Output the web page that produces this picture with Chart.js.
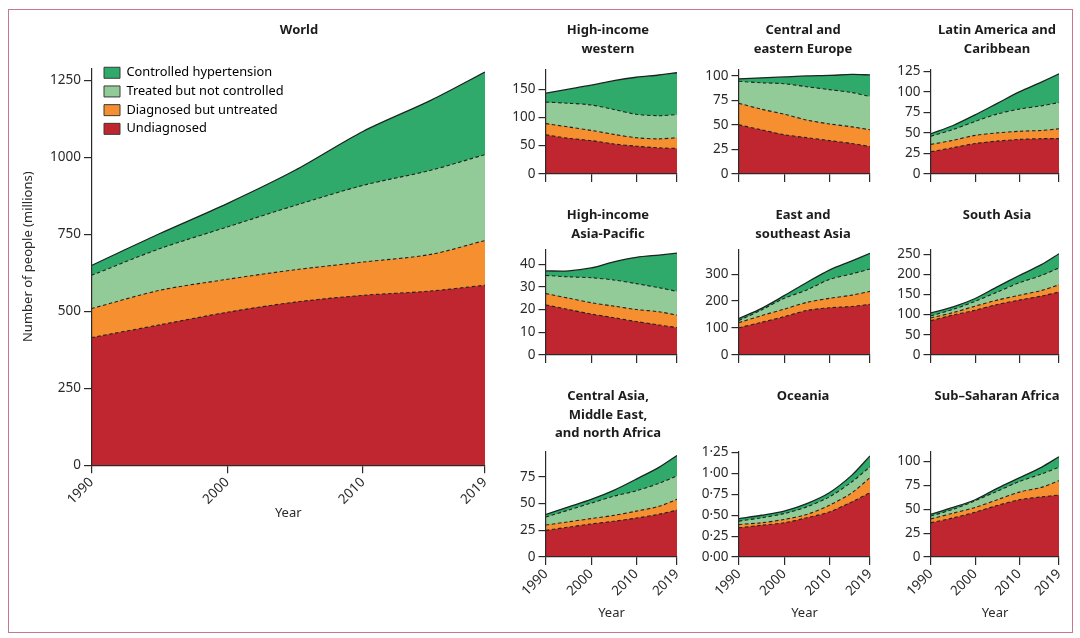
<!DOCTYPE html>
<html>
<head>
<meta charset="utf-8">
<title>Hypertension care cascade</title>
<script src="https://cdn.jsdelivr.net/npm/chart.js@4/dist/chart.umd.min.js"></script>
<style>
  html, body { margin: 0; padding: 0; background: #fff; overflow: hidden; }
  #page { position: relative; width: 1080px; height: 638px; overflow: hidden; }
  #frame { position: absolute; left: 8px; top: 9px; width: 1063px; height: 622px; border: 1px solid #c9788c; }
  canvas { position: absolute; }
</style>
</head>
<body>
<div id="page"><div id="frame"></div></div>
<script>
const years = [1990, 1995, 2000, 2005, 2010, 2015, 2019];
const yearTicks = [1990, 2000, 2010, 2019];
const seriesNames = ['Undiagnosed', 'Diagnosed but untreated', 'Treated but not controlled', 'Controlled hypertension'];

// upper edge of each band, in millions
const worldUndiagnosed = [415, 456, 497, 530, 552, 566, 585];
const worldDiagnosed = [509, 568, 604, 635, 660, 685, 730];
const worldTreated = [617, 703, 774, 844, 909, 958, 1009];
const worldControlled = [649, 752, 850, 958, 1084, 1185, 1277];
const worldTicks = [0, 250, 500, 750, 1000, 1250];

const westernUndiagnosed = [69, 63, 59, 53, 49, 46, 45];
const westernDiagnosed = [89, 83, 77, 70, 64, 62, 64];
const westernTreated = [127, 125, 122, 114, 105.5, 103, 105];
const westernControlled = [143, 150, 157, 165, 171, 175, 179];
const westernTicks = [0, 50, 100, 150];

const europeUndiagnosed = [50, 45, 40, 37, 34, 31, 28];
const europeDiagnosed = [72, 66, 61, 55, 51, 48, 45];
const europeTreated = [94.5, 93, 92, 89, 86, 83, 79];
const europeControlled = [97, 98, 99, 100, 100.5, 101.5, 101];
const europeTicks = [0, 25, 50, 75, 100];

const latinUndiagnosed = [27, 32, 37, 40, 42, 43, 43];
const latinDiagnosed = [36, 41, 47, 50, 52, 53, 55];
const latinTreated = [46, 54, 64, 73, 79, 83, 87];
const latinControlled = [49, 59, 72, 86, 100, 112, 122];
const latinTicks = [0, 25, 50, 75, 100, 125];

const pacificUndiagnosed = [22, 20, 18, 16.4, 14.7, 13.2, 12];
const pacificDiagnosed = [27, 25, 23, 21.5, 20, 19, 17.5];
const pacificTreated = [35, 34.4, 34, 33, 31.4, 29.6, 28];
const pacificControlled = [37, 37, 38.3, 41, 43, 44, 44.8];
const pacificTicks = [0, 10, 20, 30, 40];

const eastUndiagnosed = [101, 121, 142, 165, 175, 180, 188];
const eastDiagnosed = [120, 146, 170, 195, 210, 222, 236];
const eastTreated = [128, 167, 210, 241, 280, 301, 319];
const eastControlled = [135, 173, 220, 269, 315, 349, 377];
const eastTicks = [0, 100, 200, 300];

const southUndiagnosed = [85, 99, 111, 125, 136, 146, 156];
const southDiagnosed = [92, 105, 121, 136, 148, 160, 174];
const southTreated = [97, 113, 133, 156, 179, 197, 216];
const southControlled = [104, 119, 140, 169, 197, 224, 251];
const southTicks = [0, 50, 100, 150, 200, 250];

const menaUndiagnosed = [25, 28, 31, 33.5, 36.5, 40, 44];
const menaDiagnosed = [30, 33, 36, 39, 43, 47.5, 54];
const menaTreated = [37.5, 44, 50.5, 57, 62, 69, 76];
const menaControlled = [40, 47, 54, 62.5, 73, 84, 95];
const menaTicks = [0, 25, 50, 75];

const oceaniaUndiagnosed = [0.35, 0.38, 0.41, 0.47, 0.54, 0.66, 0.77];
const oceaniaDiagnosed = [0.39, 0.41, 0.45, 0.51, 0.62, 0.77, 0.95];
const oceaniaTreated = [0.43, 0.47, 0.52, 0.60, 0.72, 0.90, 1.08];
const oceaniaControlled = [0.46, 0.50, 0.55, 0.64, 0.77, 0.98, 1.21];
const oceaniaTicks = [0, 0.25, 0.5, 0.75, 1, 1.25];

const africaUndiagnosed = [36, 41, 47, 54, 60, 63, 65];
const africaDiagnosed = [40, 46, 52, 60, 68, 73, 80];
const africaTreated = [43, 50, 59, 69, 79, 87, 94];
const africaControlled = [45, 52, 60, 72, 83, 94, 105];
const africaTicks = [0, 25, 50, 75, 100];

const fillColors = ['#bf2630', '#f58f30', '#93cb98', '#2faa6b'];
const ink = '#2a2a2a';
const FONT = '"Noto Sans", sans-serif';

// the title centres on the plot box by default and the legend has no free
// position, so both are moved once layout is done
const placeBlocks = {
    id: 'placeBlocks',
    afterLayout(chart, args, opts) {
        const block = chart.titleBlock;
        const shift = opts.titleCentre - (block.left + block.right) / 2;
        block.left += shift;
        block.right += shift;
        if (chart.options.plugins.legend.display) {
            chart.legend.left = chart.chartArea.left + 6.6;
            chart.legend.top = chart.chartArea.top - 7.9;
        }
    }
};

function addPanel(p) {
    const canvas = document.createElement('canvas');
    const titleTop = p.titleY - 9.35;
    const lines = p.title.length;
    const canvasHeight = p.axisBottom + p.xHeight - titleTop;
    const canvasRight = p.axisRight + 14;
    canvas.width = canvasRight - p.left;
    canvas.height = Math.ceil(canvasHeight);
    canvas.style.left = p.left + 'px';
    canvas.style.top = titleTop + 'px';
    document.getElementById('page').appendChild(canvas);

    new Chart(canvas.getContext('2d'), {
        type: 'line',
        plugins: [placeBlocks],
        data: {
            datasets: p.edges.map((edge, i) => ({
                label: seriesNames[i],
                data: edge.map((v, j) => ({ x: years[j], y: v })),
                backgroundColor: fillColors[i],
                borderColor: '#1d2520',
                borderWidth: i === 3 ? 1.3 : 1.1,
                borderDash: i === 3 ? [] : [3.5, 2.5],
                fill: 'origin',
                pointRadius: 0,
                tension: 0.3
            }))
        },
        options: {
            responsive: false,
            animation: false,
            events: [],
            layout: {
                autoPadding: false,
                padding: { right: 14, top: 0, left: 0, bottom: canvas.height - canvasHeight }
            },
            plugins: {
                placeBlocks: { titleCentre: p.titleX - p.left },
                tooltip: { enabled: false },
                title: {
                    display: true,
                    text: p.title,
                    color: '#1c1c1c',
                    font: { family: FONT, size: 13, weight: '700', lineHeight: 18.7 / 13 },
                    padding: { top: 0, bottom: p.axisTop - titleTop - lines * 18.7 }
                },
                legend: {
                    display: !!p.legend,
                    position: 'chartArea',
                    align: 'start',
                    reverse: true,
                    labels: {
                        boxWidth: 16,
                        boxHeight: 11,
                        padding: 5.9,
                        color: ink,
                        font: { family: FONT, size: 12.8 },
                        generateLabels(chart) {
                            return chart.data.datasets.map((d, i) => ({
                                text: d.label,
                                fillStyle: d.backgroundColor,
                                strokeStyle: '#3a3a3a',
                                lineWidth: 1,
                                datasetIndex: i
                            }));
                        }
                    }
                }
            },
            scales: {
                x: {
                    type: 'linear',
                    min: 1990,
                    max: 2019,
                    afterBuildTicks(scale) { scale.ticks = yearTicks.map(v => ({ value: v })); },
                    afterFit(scale) { scale.height = p.xHeight; },
                    title: {
                        display: !!p.xTitle,
                        text: 'Year',
                        color: ink,
                        padding: 0,
                        font: { family: FONT, size: 13 }
                    },
                    border: { color: ink, width: 1.2, z: 1 },
                    grid: { drawOnChartArea: false, color: ink, lineWidth: 1.2, tickLength: 8 },
                    ticks: {
                        display: !!p.xTitle,
                        autoSkip: false,
                        minRotation: 45,
                        maxRotation: 45,
                        padding: 1,
                        color: ink,
                        font: { family: FONT, size: 13.5 },
                        callback: v => String(v)
                    }
                },
                y: {
                    min: 0,
                    max: p.yMax,
                    afterBuildTicks(scale) { scale.ticks = p.yTicks.map(v => ({ value: v })); },
                    afterFit(scale) { scale.width = p.axisLeft - p.left; },
                    title: {
                        display: !!p.yTitle,
                        text: p.yTitle,
                        color: ink,
                        padding: { top: 5, bottom: 0 },
                        font: { family: FONT, size: 13 }
                    },
                    border: { color: ink, width: 1.2, z: 1 },
                    grid: { drawOnChartArea: false, color: ink, lineWidth: 1.2, tickLength: 7.5 },
                    ticks: {
                        padding: 3,
                        color: ink,
                        font: { family: FONT, size: 13.5 },
                        callback: p.tickFormat || (v => String(v))
                    }
                }
            }
        }
    });
}

addPanel({
    title: ['World'], titleX: 299, titleY: 30, left: 15,
    axisLeft: 91.5, axisRight: 485, axisTop: 68, axisBottom: 465, xHeight: 56,
    yMax: 1289, yTicks: worldTicks, xTitle: true, legend: true,
    // leading spaces lift the title to where it sits in the reference
    yTitle: '\u00a0\u00a0\u00a0\u00a0\u00a0\u00a0Number of people (millions)',
    edges: [worldUndiagnosed, worldDiagnosed, worldTreated, worldControlled]
});
addPanel({
    title: ['High-income', 'western'], titleX: 608, titleY: 30, left: 508,
    axisLeft: 546, axisRight: 677, axisTop: 69, axisBottom: 174.5, xHeight: 10,
    yMax: 185, yTicks: westernTicks,
    edges: [westernUndiagnosed, westernDiagnosed, westernTreated, westernControlled]
});
addPanel({
    title: ['Central and', 'eastern Europe'], titleX: 803, titleY: 30, left: 700,
    axisLeft: 739, axisRight: 870, axisTop: 69, axisBottom: 174.5, xHeight: 10,
    yMax: 106.7, yTicks: europeTicks,
    edges: [europeUndiagnosed, europeDiagnosed, europeTreated, europeControlled]
});
addPanel({
    title: ['Latin America and', 'Caribbean'], titleX: 997, titleY: 30, left: 892,
    axisLeft: 931, axisRight: 1059, axisTop: 69, axisBottom: 174.5, xHeight: 10,
    yMax: 127.5, yTicks: latinTicks,
    edges: [latinUndiagnosed, latinDiagnosed, latinTreated, latinControlled]
});
addPanel({
    title: ['High-income', 'Asia-Pacific'], titleX: 608, titleY: 215, left: 508,
    axisLeft: 546, axisRight: 677, axisTop: 249, axisBottom: 355, xHeight: 10,
    yMax: 46.5, yTicks: pacificTicks,
    edges: [pacificUndiagnosed, pacificDiagnosed, pacificTreated, pacificControlled]
});
addPanel({
    title: ['East and', 'southeast Asia'], titleX: 803, titleY: 215, left: 700,
    axisLeft: 739, axisRight: 870, axisTop: 249, axisBottom: 355, xHeight: 10,
    yMax: 392, yTicks: eastTicks,
    edges: [eastUndiagnosed, eastDiagnosed, eastTreated, eastControlled]
});
addPanel({
    title: ['South Asia'], titleX: 997, titleY: 215, left: 892,
    axisLeft: 931, axisRight: 1059, axisTop: 249, axisBottom: 355, xHeight: 10,
    yMax: 262, yTicks: southTicks,
    edges: [southUndiagnosed, southDiagnosed, southTreated, southControlled]
});
addPanel({
    title: ['Central Asia,', 'Middle East,', 'and north Africa'], titleX: 608, titleY: 396, left: 508,
    axisLeft: 546, axisRight: 677, axisTop: 451.7, axisBottom: 556.7, xHeight: 64, xTitle: true,
    yMax: 98.3, yTicks: menaTicks,
    edges: [menaUndiagnosed, menaDiagnosed, menaTreated, menaControlled]
});
addPanel({
    title: ['Oceania'], titleX: 803, titleY: 396, left: 696,
    axisLeft: 739, axisRight: 870, axisTop: 451.7, axisBottom: 556.7, xHeight: 64, xTitle: true,
    yMax: 1.256, yTicks: oceaniaTicks,
    tickFormat: v => v.toFixed(2).replace('.', '·'),
    edges: [oceaniaUndiagnosed, oceaniaDiagnosed, oceaniaTreated, oceaniaControlled]
});
addPanel({
    title: ['Sub–Saharan Africa'], titleX: 997, titleY: 396, left: 892,
    axisLeft: 931, axisRight: 1059, axisTop: 451.7, axisBottom: 556.7, xHeight: 64, xTitle: true,
    yMax: 110, yTicks: africaTicks,
    edges: [africaUndiagnosed, africaDiagnosed, africaTreated, africaControlled]
});
</script>
</body>
</html>
